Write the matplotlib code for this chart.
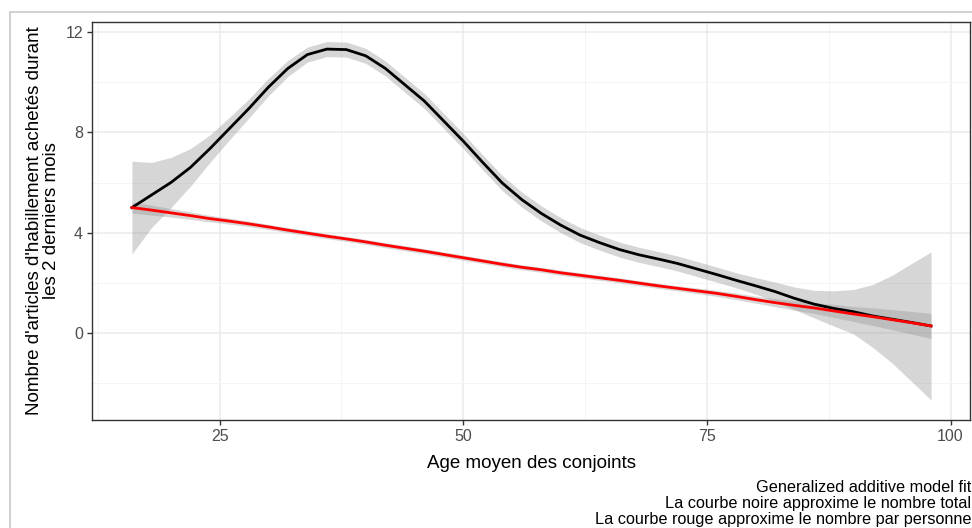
import numpy as np
import matplotlib
matplotlib.use("Agg")
import matplotlib.pyplot as plt
from matplotlib.patches import Rectangle

plt.rcParams['font.family'] = ['Liberation Sans', 'DejaVu Sans']

# age moyen des conjoints
age = [16, 18, 20, 22, 24, 26, 28, 30, 32, 34, 36, 38, 40, 42, 44, 46, 48, 50, 52, 54,
       56, 58, 60, 62, 64, 66, 68, 70, 72, 74, 76, 78, 80, 82, 84, 86, 88, 90, 92, 94, 96, 98]

# courbe noire : nombre total
total = [5.0, 5.5, 6.0, 6.6, 7.35, 8.15, 8.95, 9.8, 10.55, 11.1, 11.32, 11.3, 11.05, 10.55,
         9.9, 9.25, 8.45, 7.65, 6.8, 5.98, 5.32, 4.77, 4.3, 3.9, 3.6, 3.33, 3.12, 2.95,
         2.77, 2.55, 2.33, 2.1, 1.88, 1.65, 1.38, 1.15, 0.98, 0.85, 0.68, 0.55, 0.42, 0.28]
se_total = [1.85, 1.3, 1.0, 0.75, 0.55, 0.45, 0.38, 0.35, 0.32, 0.3, 0.3, 0.3, 0.3, 0.3,
            0.3, 0.3, 0.3, 0.3, 0.3, 0.3, 0.3, 0.3, 0.3, 0.3, 0.3, 0.3, 0.3, 0.3,
            0.3, 0.3, 0.3, 0.3, 0.33, 0.38, 0.45, 0.55, 0.7, 0.88, 1.25, 1.75, 2.35, 2.95]

# courbe rouge : nombre par personne
par_pers = [5.0, 4.9, 4.79, 4.68, 4.56, 4.46, 4.35, 4.23, 4.1, 3.98, 3.86, 3.75, 3.63, 3.5,
            3.38, 3.26, 3.13, 3.0, 2.87, 2.74, 2.62, 2.52, 2.4, 2.3, 2.2, 2.1, 1.99, 1.88,
            1.78, 1.68, 1.58, 1.46, 1.33, 1.21, 1.1, 1.0, 0.88, 0.76, 0.65, 0.53, 0.41, 0.28]
se_pers = [0.22, 0.2, 0.17, 0.15, 0.13, 0.12, 0.11, 0.1, 0.1, 0.1, 0.1, 0.1, 0.1, 0.1,
           0.1, 0.1, 0.1, 0.1, 0.1, 0.1, 0.1, 0.1, 0.1, 0.1, 0.1, 0.1, 0.1, 0.1,
           0.1, 0.11, 0.12, 0.13, 0.14, 0.16, 0.19, 0.22, 0.26, 0.3, 0.35, 0.4, 0.45, 0.5]

x_ticks = [25, 50, 75, 100]
y_ticks = [0, 4, 8, 12]

age = np.array(age)
total, se_total = np.array(total), np.array(se_total)
par_pers, se_pers = np.array(par_pers), np.array(se_pers)

fig = plt.figure(figsize=(9.72, 5.28), dpi=100)
# cadre gris autour de la figure
fig.patches.append(Rectangle((10 / 972, -0.1), 1.2, (528 - 12) / 528 + 0.1,
                             transform=fig.transFigure, fill=False,
                             edgecolor='#c8c8c8', linewidth=1.2))

ax = fig.add_axes([92 / 972, 108 / 528, 878 / 972, 398 / 528])

ax.fill_between(age, total - se_total, total + se_total, color='#999999', alpha=0.4, linewidth=0)
ax.fill_between(age, par_pers - se_pers, par_pers + se_pers, color='#999999', alpha=0.4, linewidth=0)
ax.plot(age, total, color='black', linewidth=2.0)
ax.plot(age, par_pers, color='#ff0000', linewidth=2.0)

ax.set_xlim(11.9, 102.0)
ax.set_ylim(-3.47, 12.4)
ax.set_xticks(x_ticks)
ax.set_yticks(y_ticks)
ax.set_xticks([12.5, 37.5, 62.5, 87.5], minor=True)
ax.set_yticks([-2, 2, 6, 10], minor=True)
ax.grid(which='major', color='#ebebeb', linewidth=1.1)
ax.grid(which='minor', color='#f3f3f3', linewidth=0.6)
ax.set_axisbelow(True)

ax.tick_params(which='major', length=3.5, width=1, color='#333333',
               labelcolor='#4d4d4d', labelsize=11.5, pad=3)
ax.tick_params(which='minor', length=0)
for s in ax.spines.values():
    s.set_color('#333333')
    s.set_linewidth(1)

ax.set_xlabel("Age moyen des conjoints", fontsize=13.5, labelpad=8)
ax.set_ylabel("Nombre d'articles d'habillement achetés durant\nles 2 derniers mois",
              fontsize=13.5, linespacing=1.05)
ax.yaxis.set_label_coords(-0.036, 0.5)

fig.text(0.9995, 1 - 480 / 528, "Generalized additive model fit\n"
         "La courbe noire approxime le nombre total\n"
         "La courbe rouge approxime le nombre par personne",
         ha='right', va='top', fontsize=11.7, linespacing=1.08, color='black')

fig.savefig("out.png", dpi=100)
